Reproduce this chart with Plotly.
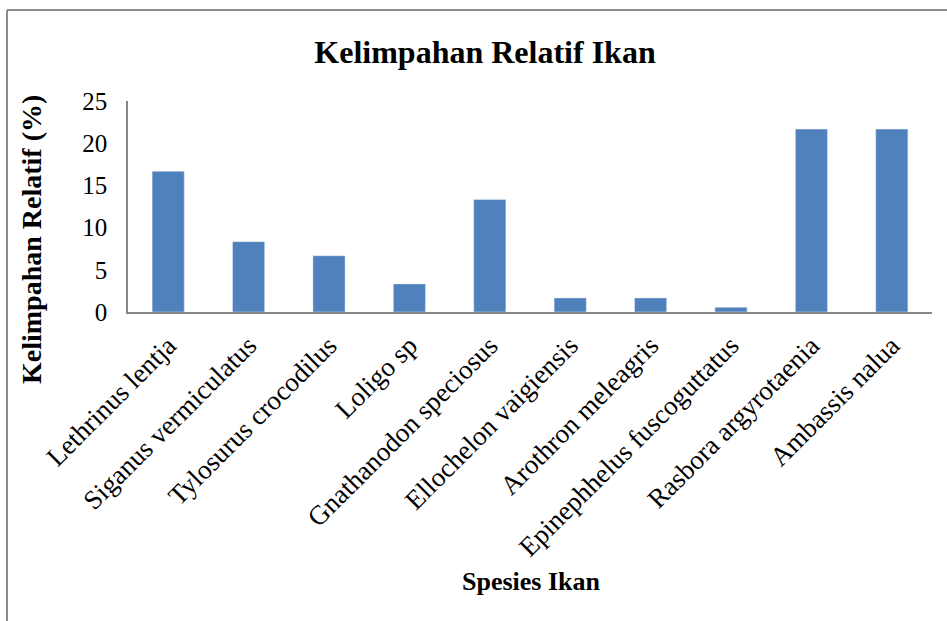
import plotly.graph_objects as go

species = ["Lethrinus lentja", "Siganus vermiculatus", "Tylosurus crocodilus", "Loligo sp",
           "Gnathanodon speciosus", "Ellochelon vaigiensis", "Arothron meleagris",
           "Epinephhelus fuscoguttatus", "Rasbora argyrotaenia", "Ambassis nalua"]
relatif = [16.67, 8.33, 6.67, 3.33, 13.33, 1.67, 1.67, 0.56, 21.67, 21.67]
y_ticks = [0, 5, 10, 15, 20, 25]

W, H = 947, 621
L, R, T, B = 128, 15, 101, 309
pw, ph = W - L - R, H - T - B

def px(x):
    return (x - L) / pw

def py(y):
    return (H - B - y) / ph

SERIF = "Liberation Serif, Times New Roman, serif"

fig = go.Figure(go.Bar(x=species, y=relatif, marker_color="#4F81BD", width=0.4))

fig.update_layout(
    width=W, height=H,
    margin=dict(l=L, r=R, t=T, b=B),
    paper_bgcolor="white", plot_bgcolor="white",
    font=dict(family=SERIF, color="black", size=24),
    showlegend=False,
    title=dict(text="<b>Kelimpahan Relatif Ikan</b>", x=485 / W, xanchor="center",
               y=1 - 52 / H, yanchor="middle", font=dict(size=32, family=SERIF)),
)
fig.update_xaxes(showline=True, linecolor="#868686", linewidth=2, tickangle=-45,
                 ticks="", showgrid=False, tickfont=dict(size=27), ticklabelstandoff=5)
fig.update_yaxes(range=[0, 25], tickvals=y_ticks, showline=True, linecolor="#868686",
                 linewidth=1.5, showgrid=False, zeroline=False, ticks="",
                 ticklabelstandoff=14, tickfont=dict(size=25))

fig.add_annotation(text="<b>Spesies Ikan</b>", xref="paper", yref="paper",
                   x=px(531), y=py(581), xanchor="center", yanchor="middle",
                   showarrow=False, font=dict(size=26))
fig.add_annotation(text="<b>Kelimpahan Relatif (%)</b>", xref="paper", yref="paper",
                   x=px(31), y=py(240), xanchor="center", yanchor="middle",
                   showarrow=False, textangle=-90, font=dict(size=28))

# outer chart frame
fig.add_shape(type="line", xref="paper", yref="paper", x0=px(7), x1=px(7), y0=py(10), y1=py(700),
              line=dict(color="#8C8C8C", width=2))
fig.add_shape(type="line", xref="paper", yref="paper", x0=px(7), x1=px(1100), y0=py(10), y1=py(10),
              line=dict(color="#8C8C8C", width=2))

fig.write_html("out.html")
